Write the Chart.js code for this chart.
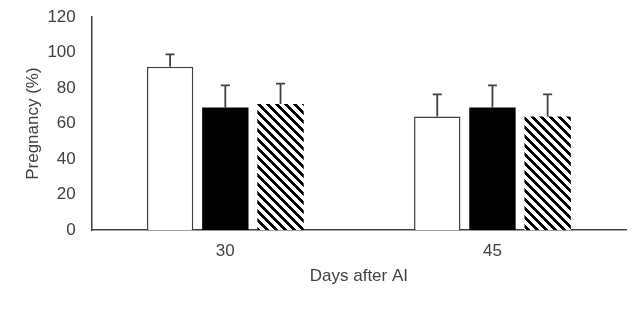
<!DOCTYPE html>
<html>
<head>
<meta charset="utf-8">
<script src="https://cdn.jsdelivr.net/npm/chart.js@4"></script>
<style>
  body { margin: 0; background: #fff; }
  #wrap { width: 644px; height: 309px; position: relative; }
</style>
</head>
<body>
<div id="wrap"><canvas id="c"></canvas></div>
<script>
// datos
const days = ['30', '45'];
const grupoA = [92, 64];
const grupoB = [69, 69];
const grupoC = [71, 64];
const errA = [7, 12.5];
const errB = [12.5, 12.5];
const errC = [11.5, 12.5];
const yTicks = [0, 20, 40, 60, 80, 100, 120];

// relleno rayado para la tercera serie (pixel a pixel, sin antialias)
function hatch() {
    const n = 9, w = 4;
    const p = document.createElement('canvas');
    p.width = n; p.height = n;
    const g = p.getContext('2d');
    g.fillStyle = '#fff';
    g.fillRect(0, 0, n, n);
    g.fillStyle = '#000';
    for (let y = 0; y < n; y++) {
        for (let x = 0; x < n; x++) {
            if (((x - y) % n + n) % n < w) g.fillRect(x, y, 1, 1);
        }
    }
    return g.createPattern(p, 'repeat');
}

// barras de error (solo hacia arriba)
const errorBars = {
    id: 'errorBars',
    afterDatasetsDraw(chart) {
        const ctx = chart.ctx;
        const y = chart.scales.y;
        ctx.save();
        ctx.strokeStyle = '#404040';
        ctx.lineWidth = 1.8;
        chart.data.datasets.forEach((ds, i) => {
            chart.getDatasetMeta(i).data.forEach((bar, j) => {
                const top = y.getPixelForValue(ds.data[j] + ds.err[j]);
                ctx.beginPath();
                ctx.moveTo(bar.x, bar.y);
                ctx.lineTo(bar.x, top);
                ctx.moveTo(bar.x - 4.5, top);
                ctx.lineTo(bar.x + 4.5, top);
                ctx.stroke();
            });
        });
        ctx.restore();
    }
};

const font = { family: 'Liberation Sans, Arial, sans-serif', size: 17 };

new Chart(document.getElementById('c'), {
    type: 'bar',
    data: {
        labels: days,
        datasets: [
            { data: grupoA, err: errA, backgroundColor: '#fff', borderColor: '#404040', borderWidth: 1.5 },
            { data: grupoB, err: errB, backgroundColor: '#000', borderColor: '#000', borderWidth: 0 },
            { data: grupoC, err: errC, backgroundColor: hatch(), borderWidth: 0 }
        ]
    },
    options: {
        responsive: true,
        maintainAspectRatio: false,
        animation: false,
        categoryPercentage: 0.62,
        barPercentage: 0.84,
        layout: { padding: { left: 23, right: 18, top: 17, bottom: 22 } },
        plugins: {
            legend: { display: false },
            tooltip: { enabled: false }
        },
        scales: {
            x: {
                grid: { display: false, drawTicks: false },
                border: { color: '#404040', width: 1.5 },
                ticks: { color: '#404040', font: font, padding: 11 },
                title: { display: true, text: 'Days after AI', color: '#404040', font: font, padding: { top: 0, bottom: 0 } },
                afterFit: (s) => { s.height -= 6; }
            },
            y: {
                min: 0,
                max: 120,
                afterBuildTicks: (s) => { s.ticks = yTicks.map(v => ({ value: v })); },
                grid: { display: false, drawTicks: false },
                border: { color: '#404040', width: 1.5 },
                ticks: { color: '#404040', font: font, padding: 16 },
                title: { display: true, text: 'Pregnancy (%)', color: '#404040', font: font, padding: { top: 0, bottom: 4 } },
                afterFit: (s) => { s.width -= 16; s.paddingTop = 0; s.paddingBottom = 0; }
            }
        }
    },
    plugins: [errorBars]
});
</script>
</body>
</html>
